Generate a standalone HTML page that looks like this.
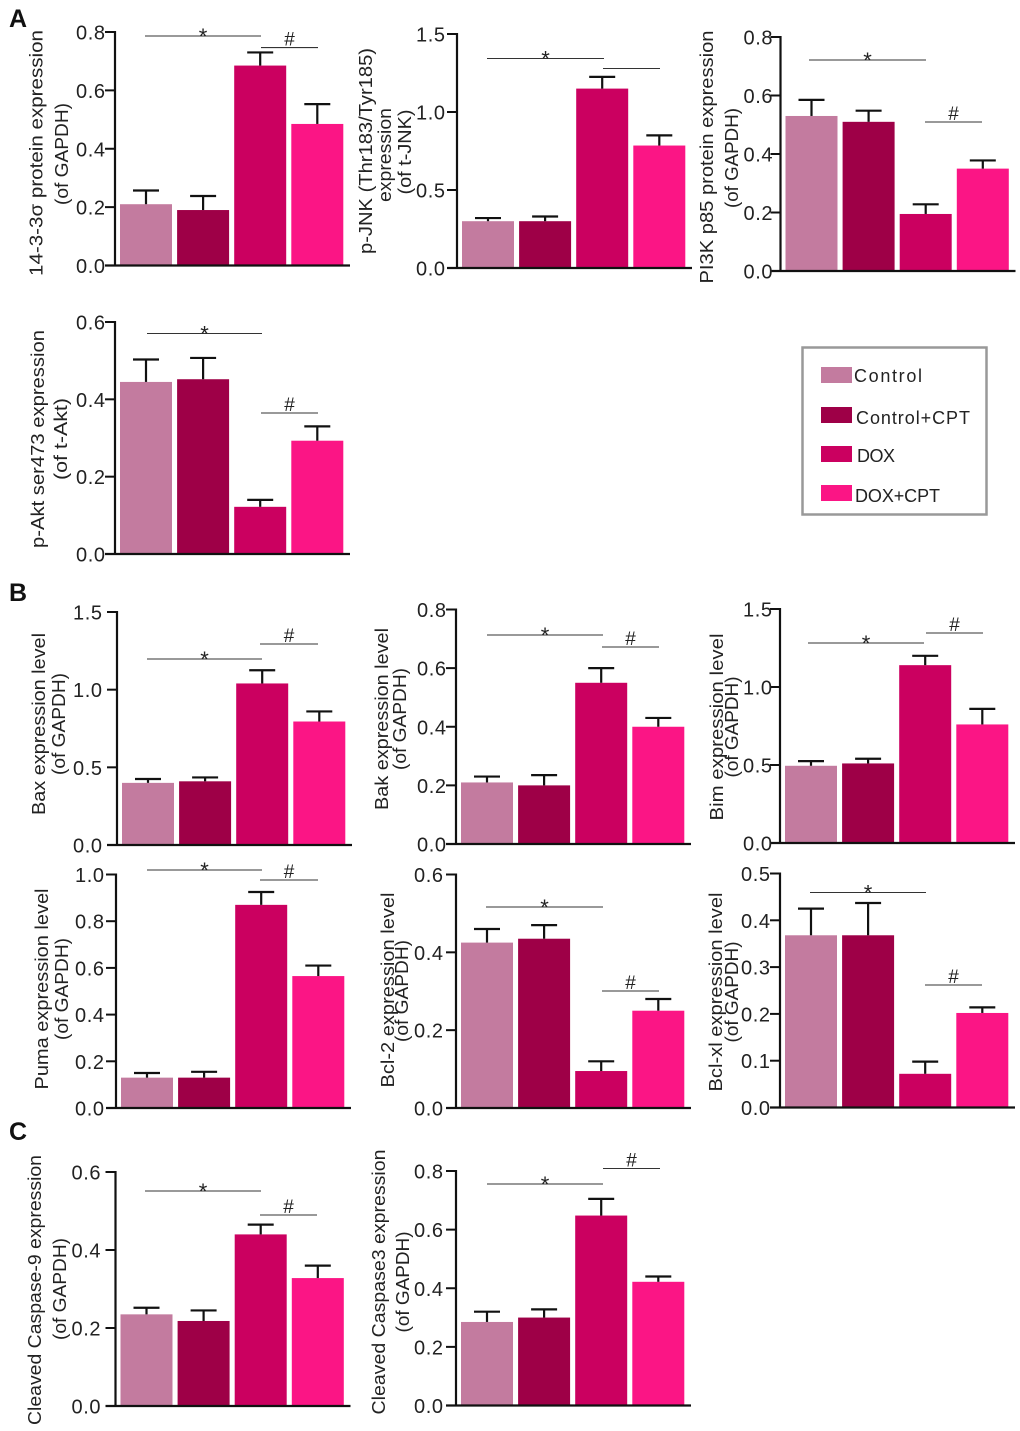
<!DOCTYPE html>
<html lang="en">
<head>
<meta charset="utf-8">
<title>Protein expression bar charts</title>
<style>
html,body{margin:0;padding:0;background:#fff;}
svg{display:block;font-family:"Liberation Sans","DejaVu Sans",sans-serif;}
</style>
</head>
<body>
<svg id="figure" xmlns="http://www.w3.org/2000/svg" width="1020" height="1431" viewBox="0 0 1020 1431">
  <text x="9" y="27" font-size="25" font-weight="bold" fill="#111">A</text>
  <text x="9" y="601" font-size="25" font-weight="bold" fill="#111">B</text>
  <text x="9" y="1140" font-size="25" font-weight="bold" fill="#111">C</text>
  <g>
    <rect x="802.5" y="347.5" width="184" height="167" fill="#fff" stroke="#999" stroke-width="2.5"/>
    <rect x="821" y="367" width="31" height="16" fill="#c37b9f"/>
    <text x="854" y="382" font-size="18" textLength="68" lengthAdjust="spacing" fill="#222">Control</text>
    <rect x="821" y="407" width="31" height="16" fill="#9e0047"/>
    <text x="856" y="424" font-size="18" textLength="114" lengthAdjust="spacing" fill="#222">Control+CPT</text>
    <rect x="821" y="446" width="31" height="16" fill="#cb0060"/>
    <text x="857" y="462" font-size="18" textLength="38" lengthAdjust="spacing" fill="#222">DOX</text>
    <rect x="821" y="485" width="31" height="16" fill="#fb1585"/>
    <text x="855" y="502" font-size="18" textLength="85" lengthAdjust="spacing" fill="#222">DOX+CPT</text>
  </g>
</svg>
<script>
// Categories and shared colours
const categories = ['Control', 'Control+CPT', 'DOX', 'DOX+CPT'];
const barColors = ['#c37b9f', '#9e0047', '#cb0060', '#fb1585'];

// Tick labels
const ticks08 = ['0.0', '0.2', '0.4', '0.6', '0.8'];
const ticks15 = ['0.0', '0.5', '1.0', '1.5'];
const ticks06 = ['0.0', '0.2', '0.4', '0.6'];
const ticks10 = ['0.0', '0.2', '0.4', '0.6', '0.8', '1.0'];
const ticks05 = ['0.0', '0.1', '0.2', '0.3', '0.4', '0.5'];

// Series means and upper error values
const means14 = [0.21, 0.19, 0.685, 0.485];
const upper14 = [0.257, 0.238, 0.73, 0.553];
const meansJnk = [0.30, 0.30, 1.15, 0.785];
const upperJnk = [0.32, 0.33, 1.225, 0.85];
const meansPi3k = [0.53, 0.51, 0.195, 0.35];
const upperPi3k = [0.585, 0.548, 0.228, 0.378];
const meansAkt = [0.445, 0.452, 0.122, 0.293];
const upperAkt = [0.503, 0.507, 0.14, 0.33];
const meansBax = [0.40, 0.41, 1.04, 0.795];
const upperBax = [0.425, 0.435, 1.125, 0.86];
const meansBak = [0.21, 0.20, 0.55, 0.40];
const upperBak = [0.23, 0.235, 0.60, 0.43];
const meansBim = [0.495, 0.51, 1.14, 0.76];
const upperBim = [0.525, 0.54, 1.20, 0.86];
const meansPuma = [0.13, 0.13, 0.87, 0.565];
const upperPuma = [0.15, 0.155, 0.925, 0.61];
const meansBcl2 = [0.425, 0.435, 0.095, 0.25];
const upperBcl2 = [0.46, 0.47, 0.12, 0.28];
const meansBclxl = [0.368, 0.368, 0.072, 0.202];
const upperBclxl = [0.425, 0.437, 0.098, 0.214];
const meansCasp9 = [0.235, 0.218, 0.44, 0.328];
const upperCasp9 = [0.252, 0.245, 0.465, 0.36];
const meansCasp3 = [0.285, 0.30, 0.648, 0.422];
const upperCasp3 = [0.32, 0.328, 0.705, 0.44];

const NS = 'http://www.w3.org/2000/svg';
const figure = document.getElementById('figure');

function make(tag, attrs, parent) {
  const el = document.createElementNS(NS, tag);
  for (const k in attrs) el.setAttribute(k, attrs[k]);
  parent.appendChild(el);
  return el;
}

function drawPanel(p) {
  const group = make('g', {}, figure);
  
  

  const yMax = parseFloat(p.ticks[p.ticks.length - 1]);
  const yScale = function (v) { return p.bottom - (v / yMax) * (p.bottom - p.top); };
  const xScale = function (i) { return p.left + 5 + i * 57.1; };
  const barWidth = 52;

  // Bars and error bars
  p.means.forEach(function (value, i) {
    const x = xScale(i);
    const y = yScale(value);
    const bar = make('rect', { x: x, y: y, width: barWidth, height: p.bottom - y, fill: barColors[i] }, group);
    
    

    const cx = x + barWidth / 2;
    const errY = yScale(p.upper[i]);
    const stem = make('line', { x1: cx, x2: cx, y1: y, y2: errY, stroke: '#111', 'stroke-width': 2.2 }, group);
    
    
    const cap = make('line', { x1: cx - 13, x2: cx + 13, y1: errY, y2: errY, stroke: '#111', 'stroke-width': 2.2 }, group);
    
    
  });

  // Axes
  const yAxis = make('line', { x1: p.left, x2: p.left, y1: p.top - 1, y2: p.bottom + 1, stroke: '#111', 'stroke-width': 2.2 }, group);
  
  
  const xAxis = make('line', { x1: p.left - 10, x2: p.left + 235, y1: p.bottom, y2: p.bottom, stroke: '#111', 'stroke-width': 2.2 }, group);
  
  

  p.ticks.forEach(function (label) {
    const y = yScale(parseFloat(label));
    const tick = make('line', { x1: p.left - 10, x2: p.left, y1: y, y2: y, stroke: '#111', 'stroke-width': 2 }, group);
    
    
    const text = make('text', { x: p.left - p.gap + 0.6, y: y + 7.5, 'font-size': 20, 'text-anchor': 'end', 'letter-spacing': 0.6, fill: '#222' }, group);
    
    
    text.textContent = label;
  });

  // Rotated y-axis title lines: [text, centre x, centre y, length]
  p.title.forEach(function (t) {
    const line = make('text', {
      transform: 'translate(' + (t[1] + 1.5) + ',' + t[2] + ') rotate(-90)',
      'font-size': 18.5, 'text-anchor': 'middle', 'dominant-baseline': 'central',
      textLength: t[3], lengthAdjust: 'spacingAndGlyphs', fill: '#222'
    }, group);
    
    
    line.textContent = t[0];
  });

  // Significance brackets: [mark, x1, x2, y]
  p.marks.forEach(function (m) {
    const rule = make('line', { x1: m[1], x2: m[2], y1: m[3], y2: m[3], stroke: '#333', 'stroke-width': 1.1 }, group);
    
    
    if (m[0]) {
      const isStar = m[0] === '*';
      const sign = make('text', {
        x: (m[1] + m[2]) / 2, y: m[3] + (isStar ? 8 : -2), 'font-size': isStar ? 22 : 19,
        'text-anchor': 'middle', fill: '#222'
      }, group);
      
      
      sign.textContent = m[0];
    }
  });
}

drawPanel({ name: '14-3-3-sigma', left: 115, top: 32, bottom: 265.5, gap: 10, ticks: ticks08, means: means14, upper: upper14,
  title: [['14-3-3σ protein expression', 34.5, 153, 246], ['(of GAPDH)', 60, 154, 102]],
  marks: [['*', 145, 261, 36], ['#', 261, 318, 47.6]] });
drawPanel({ name: 'p-jnk', left: 457, top: 34, bottom: 268, gap: 12, ticks: ticks15, means: meansJnk, upper: upperJnk,
  title: [['p-JNK (Thr183/Tyr185)', 364, 151, 206], ['expression', 383, 155, 94], ['(of t-JNK)', 403, 152, 85]],
  marks: [['*', 487, 604, 58.5], ['', 603, 660, 68.5]] });
drawPanel({ name: 'pi3k-p85', left: 780.5, top: 37, bottom: 271, gap: 8, ticks: ticks08, means: meansPi3k, upper: upperPi3k,
  title: [['PI3K p85 protein expression', 705, 157, 253], ['(of GAPDH)', 730, 158, 100]],
  marks: [['*', 809, 926, 60], ['#', 925, 982, 122]] });
drawPanel({ name: 'p-akt', left: 115, top: 322, bottom: 554, gap: 10, ticks: ticks06, means: meansAkt, upper: upperAkt,
  title: [['p-Akt ser473 expression', 36, 439, 218], ['(of t-Akt)', 59, 439, 82]],
  marks: [['*', 147, 262, 333.5], ['#', 261, 318, 413]] });
drawPanel({ name: 'bax', left: 117, top: 612, bottom: 845, gap: 15, ticks: ticks15, means: meansBax, upper: upperBax,
  title: [['Bax expression level', 37, 724, 182], ['(of GAPDH)', 57, 724, 102]],
  marks: [['*', 147, 262, 659], ['#', 260, 318, 644]] });
drawPanel({ name: 'bak', left: 456, top: 609.5, bottom: 844, gap: 10, ticks: ticks08, means: meansBak, upper: upperBak,
  title: [['Bak expression level', 380, 719, 182], ['(of GAPDH)', 398, 719, 102]],
  marks: [['*', 487, 603, 635], ['#', 602, 659, 647]] });
drawPanel({ name: 'bim', left: 780, top: 609, bottom: 843, gap: 8, ticks: ticks15, means: meansBim, upper: upperBim,
  title: [['Bim expression level', 715, 727, 187], ['(of GAPDH)', 730, 727, 101]],
  marks: [['*', 808, 924, 643], ['#', 926, 983, 633]] });
drawPanel({ name: 'puma', left: 116, top: 874.5, bottom: 1108, gap: 12, ticks: ticks10, means: meansPuma, upper: upperPuma,
  title: [['Puma expression level', 40, 989, 201], ['(of GAPDH)', 60, 989, 102]],
  marks: [['*', 147, 262, 870], ['#', 260, 318, 880]] });
drawPanel({ name: 'bcl-2', left: 456, top: 874.5, bottom: 1108, gap: 13, ticks: ticks06, means: meansBcl2, upper: upperBcl2,
  title: [['Bcl-2 expression level', 386, 990, 195], ['(of GAPDH)', 400, 991, 102]],
  marks: [['*', 486, 603, 907], ['#', 602, 659, 991]] });
drawPanel({ name: 'bcl-xl', left: 780, top: 873.5, bottom: 1107.5, gap: 10, ticks: ticks05, means: meansBclxl, upper: upperBclxl,
  title: [['Bcl-xl expression level', 714, 992, 199], ['(of GAPDH)', 730, 992, 101]],
  marks: [['*', 810, 926, 892.5], ['#', 925, 982, 985]] });
drawPanel({ name: 'cleaved-caspase-9', left: 115.5, top: 1172, bottom: 1406, gap: 15, ticks: ticks06, means: meansCasp9, upper: upperCasp9,
  title: [['Cleaved Caspase-9 expression', 33, 1290, 270], ['(of GAPDH)', 58, 1289, 102]],
  marks: [['*', 145, 261, 1191], ['#', 260, 317, 1215]] });
drawPanel({ name: 'cleaved-caspase-3', left: 456, top: 1171, bottom: 1405.5, gap: 13, ticks: ticks08, means: meansCasp3, upper: upperCasp3,
  title: [['Cleaved Caspase3 expression', 377, 1282, 265], ['(of GAPDH)', 401, 1282, 101]],
  marks: [['*', 487, 603, 1184], ['#', 603, 660, 1168.5]] });
</script>
</body>
</html>
